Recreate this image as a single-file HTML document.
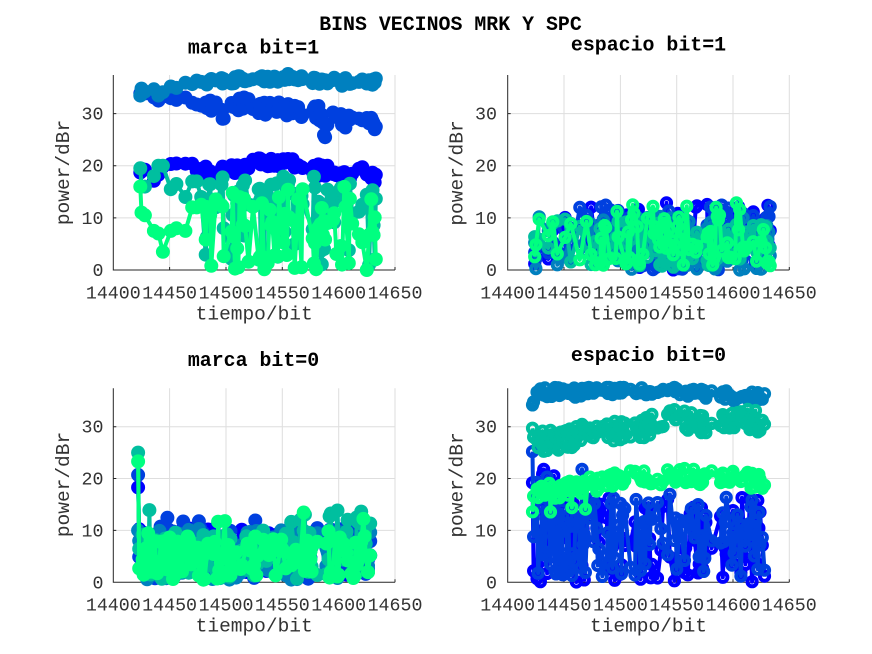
<!DOCTYPE html>
<html><head><meta charset="utf-8">
<style>
html,body{margin:0;padding:0;background:#fff;}
svg{display:block;}
</style></head><body>
<svg id="fig" width="872" height="654" viewBox="0 0 872 654" xmlns="http://www.w3.org/2000/svg">
<rect width="872" height="654" fill="#fff"/>
<!-- grids -->
<g stroke="#dedede" stroke-width="1" fill="none">
  <path d="M169.6 75V270M226 75V270M282.3 75V270M338.7 75V270M395 75V270M113.3 217.9H395M113.3 165.7H395M113.3 113.6H395"/>
  <path d="M564 75V270M620.4 75V270M676.7 75V270M733 75V270M789.3 75V270M507.7 217.9H789.3M507.7 165.7H789.3M507.7 113.6H789.3"/>
  <path d="M169.6 388.3V582.3M226 388.3V582.3M282.3 388.3V582.3M338.7 388.3V582.3M395 388.3V582.3M113.3 530.4H395M113.3 478.5H395M113.3 426.7H395"/>
  <path d="M564 388.3V582.3M620.4 388.3V582.3M676.7 388.3V582.3M733 388.3V582.3M789.3 388.3V582.3M507.7 530.4H789.3M507.7 478.5H789.3M507.7 426.7H789.3"/>
</g>
<!-- axes lines and ticks -->
<g stroke="#262626" stroke-width="1" fill="none">
  <path d="M113.3 75V270H395"/>
  <path d="M113.3 217.9h3M113.3 165.7h3M113.3 113.6h3M169.6 270v-3M226 270v-3M282.3 270v-3M338.7 270v-3M395 270v-3"/>
  <path d="M507.7 75V270H789.3"/>
  <path d="M507.7 217.9h3M507.7 165.7h3M507.7 113.6h3M564 270v-3M620.4 270v-3M676.7 270v-3M733 270v-3M789.3 270v-3"/>
  <path d="M113.3 388.3V582.3H395"/>
  <path d="M113.3 530.4h3M113.3 478.5h3M113.3 426.7h3M169.6 582.3v-3M226 582.3v-3M282.3 582.3v-3M338.7 582.3v-3M395 582.3v-3"/>
  <path d="M507.7 388.3V582.3H789.3"/>
  <path d="M507.7 530.4h3M507.7 478.5h3M507.7 426.7h3M564 582.3v-3M620.4 582.3v-3M676.7 582.3v-3M733 582.3v-3M789.3 582.3v-3"/>
</g>
<g id="data"></g>
<!-- tick labels -->
<g font-family="'Liberation Mono', 'DejaVu Sans Mono', monospace" font-size="18.3" fill="#333">
  <g text-anchor="middle">
    <text x="113.3" y="298.5">14400</text><text x="169.6" y="298.5">14450</text><text x="226" y="298.5">14500</text><text x="282.3" y="298.5">14550</text><text x="338.7" y="298.5">14600</text><text x="395" y="298.5">14650</text>
    <text x="507.7" y="298.5">14400</text><text x="564" y="298.5">14450</text><text x="620.4" y="298.5">14500</text><text x="676.7" y="298.5">14550</text><text x="733" y="298.5">14600</text><text x="789.3" y="298.5">14650</text>
    <text x="113.3" y="610.6">14400</text><text x="169.6" y="610.6">14450</text><text x="226" y="610.6">14500</text><text x="282.3" y="610.6">14550</text><text x="338.7" y="610.6">14600</text><text x="395" y="610.6">14650</text>
    <text x="507.7" y="610.6">14400</text><text x="564" y="610.6">14450</text><text x="620.4" y="610.6">14500</text><text x="676.7" y="610.6">14550</text><text x="733" y="610.6">14600</text><text x="789.3" y="610.6">14650</text>
  </g>
  <g text-anchor="end">
    <text x="103.5" y="276">0</text><text x="103.5" y="223.9">10</text><text x="103.5" y="171.7">20</text><text x="103.5" y="119.6">30</text>
    <text x="497" y="276">0</text><text x="497" y="223.9">10</text><text x="497" y="171.7">20</text><text x="497" y="119.6">30</text>
    <text x="103.5" y="588.3">0</text><text x="103.5" y="536.4">10</text><text x="103.5" y="484.5">20</text><text x="103.5" y="432.7">30</text>
    <text x="497" y="588.3">0</text><text x="497" y="536.4">10</text><text x="497" y="484.5">20</text><text x="497" y="432.7">30</text>
  </g>
</g>
<!-- axis labels -->
<g font-family="'Liberation Mono', 'DejaVu Sans Mono', monospace" font-size="19.5" fill="#333" text-anchor="middle">
  <text x="254.2" y="319.3">tiempo/bit</text>
  <text x="648.5" y="319.3">tiempo/bit</text>
  <text x="254.2" y="631.5">tiempo/bit</text>
  <text x="648.5" y="631.5">tiempo/bit</text>
  <text transform="translate(69,172.5) rotate(-90)">power/dBr</text>
  <text transform="translate(462.5,173) rotate(-90)">power/dBr</text>
  <text transform="translate(69,484.5) rotate(-90)">power/dBr</text>
  <text transform="translate(462.5,485) rotate(-90)">power/dBr</text>
</g>
<!-- titles -->
<g font-family="'Liberation Mono', 'DejaVu Sans Mono', monospace" font-weight="bold" font-size="19.9" fill="#000" text-anchor="middle">
  <text x="450.5" y="30">BINS VECINOS MRK Y SPC</text>
  <text x="253.5" y="53.5">marca bit=1</text>
  <text x="648.5" y="50.5">espacio bit=1</text>
  <text x="253.5" y="366">marca bit=0</text>
  <text x="648.5" y="361">espacio bit=0</text>
</g>
</svg>
<script>
(function(){
function mulberry32(a){return function(){a|=0;a=a+0x6D2B79F5|0;var t=Math.imul(a^a>>>15,1|a);t=t+Math.imul(t^t>>>7,61|t)^t;return((t^t>>>14)>>>0)/4294967296;};}
var R=mulberry32(12345);
var C=['#0000ff','#0040df','#0080bf','#00bf9f','#00ff80'];
var AX={TL:{x0:113.3,x1:395,yb:270,yt:75},TR:{x0:507.7,x1:789.3,yb:270,yt:75},BL:{x0:113.3,x1:395,yb:582.3,yt:388.3},BR:{x0:507.7,x1:789.3,yb:582.3,yt:388.3}};
var YM=37.4;
function interp(kp,t){if(t<=kp[0][0])return kp[0][1];for(var i=1;i<kp.length;i++){if(t<=kp[i][0]){var a=kp[i-1],b=kp[i];return a[1]+(b[1]-a[1])*(t-a[0])/(b[0]-a[0]);}}return kp[kp.length-1][1];}
function clamp(v){return Math.max(0,Math.min(37.6,v));}
function n(a){return (R()-0.5)*2*a;}
var early=[14424,14425,14428,14436,14440,14444,14451,14456,14464,14470,14474,14478];
var T1=early.slice();
for(var t=14481;t<=14632;t++){if(R()<0.55)T1.push(t);}
T1.push(14633);
var s1={};T1.forEach(function(t){s1[t]=1;});
var T0=[];for(var t2=14422;t2<=14633;t2++){if(!s1[t2])T0.push(t2);}

// ---- TL ----
var kTL1=[[14424,19.5],[14430,18.5],[14440,18],[14452,20.5],[14470,20],[14485,18.5],[14500,19],[14520,20],[14545,21],[14570,20.5],[14585,19],[14600,19],[14610,17.5],[14622,19.5],[14633,17.5]];
var kTL2=[[14424,34],[14432,33],[14450,32],[14470,32.5],[14485,32],[14497,30],[14515,32],[14530,31],[14550,31],[14570,29.5],[14582,30.5],[14588,26.5],[14595,29.5],[14605,28.5],[14620,30],[14633,28]];
var kTL3=[[14424,34.2],[14440,34],[14450,35],[14470,35.5],[14490,36],[14520,36.8],[14560,36.8],[14600,36],[14633,36.2]];
var e4={14424:19.5,14425:16,14428:16,14436:18,14440:20,14444:20,14451:15.5,14456:16.5,14464:14,14470:17,14474:17,14478:14};
var e5={14424:16,14425:11,14428:10.5,14436:7.5,14440:7,14444:3.5,14451:7.5,14456:8,14464:7.5,14470:12,14474:12,14478:12.5};
var TL=[
 T1.map(function(t){return interp(kTL1,t)+n(1.1);}),
 T1.map(function(t){return interp(kTL2,t)+n(1.3);}),
 T1.map(function(t){return interp(kTL3,t)+n(0.8);}),
 T1.map(function(t){if(e4[t]!==undefined)return e4[t];var r=R();return r<0.15?R()*3:(r<0.38?3+R()*7:10+R()*8);}),
 T1.map(function(t){if(e5[t]!==undefined)return e5[t];var r=R();return r<0.3?R()*3:(r<0.65?3+R()*6:9+R()*7);})
];
// ---- TR ----
var TR=[
 T1.map(function(){var r=R();return r<0.25?R()*3:(r<0.7?3+R()*6:9+R()*4);}),
 T1.map(function(){var r=R();return r<0.25?R()*3:(r<0.7?3+R()*6:9+R()*3.5);}),
 T1.map(function(){return R()*11;}),
 T1.map(function(){return 0.5+R()*9.5;}),
 T1.map(function(){var r=R();return r<0.9?0.8+R()*9.5:10+R()*3.5;})
];
// ---- BL ----
var first=[18.3,20.7,10,25,23.3];
var BL=[
 T0.map(function(t){return t===14422?first[0]:1+R()*9.5;}),
 T0.map(function(t){if(t===14422)return first[1];return R()<0.05?10+R()*2.5:0.5+R()*10;}),
 T0.map(function(t){return t===14422?first[2]:0.5+R()*10;}),
 T0.map(function(t){if(t===14422)return first[3];var r=R();return r<0.07?11+R()*3:0.5+R()*9.5;}),
 T0.map(function(t){if(t===14422)return first[4];var r=R();return r<0.07?9+R()*5:0.5+R()*8.5;})
];
// ---- BR ----
var kBR3=[[14422,34.2],[14426,36.5],[14500,36.9],[14560,36.7],[14585,35.9],[14620,35.9],[14633,36.4]];
var kBR4=[[14422,29.7],[14424,27],[14450,27.5],[14480,29],[14500,29.5],[14520,30],[14540,31.5],[14560,31],[14580,30.5],[14600,31.5],[14633,31]];
var kBR5=[[14422,17],[14450,18],[14480,19],[14500,20],[14550,20.5],[14633,19.5]];
var BR=[
 T0.map(function(t,i){if(i===0)return 19.2;if(i===1)return 2.2;var r=R();if(t<14470&&r<0.08)return 17+R()*5;return r<0.35?R()*4:4+R()*12.5;}),
 T0.map(function(t,i){if(i===0)return 25.2;if(i===1)return 8.8;var r=R();if(t<14470&&r<0.08)return 17+R()*5;return 1+R()*16;}),
 T0.map(function(t,i){if(i===0)return 34.2;return interp(kBR3,t)+n(1);}),
 T0.map(function(t,i){if(i===0)return 29.7;if(i===1)return 28;return interp(kBR4,t)+n(2.2);}),
 T0.map(function(t,i){if(i===0)return 13.6;if(i===1)return 16.6;if(t<14470&&R()<0.12)return 12.5+R()*2.5;return interp(kBR5,t)+n(1.6);})
];
var NS='http://www.w3.org/2000/svg';
var dg=document.getElementById('data');
function draw(ax,T,series,star){
 var a=AX[ax],sx=(a.x1-a.x0)/250,sy=(a.yb-a.yt)/YM;
 series.forEach(function(vals,i){
  var pts=T.map(function(t,j){return [a.x0+(t-14400)*sx,a.yb-clamp(vals[j])*sy];});
  var d='M'+pts.map(function(p){return p[0].toFixed(1)+' '+p[1].toFixed(1);}).join('L');
  var p=document.createElementNS(NS,'path');
  p.setAttribute('d',d);p.setAttribute('stroke',C[i]);p.setAttribute('stroke-width',4);
  p.setAttribute('fill','none');p.setAttribute('stroke-linejoin','round');
  dg.appendChild(p);
  var g=document.createElementNS(NS,'g');
  if(star){g.setAttribute('fill',C[i]);}else{g.setAttribute('fill','none');g.setAttribute('stroke',C[i]);g.setAttribute('stroke-width','4');}
  pts.forEach(function(q){var c=document.createElementNS(NS,'circle');c.setAttribute('cx',q[0].toFixed(1));c.setAttribute('cy',q[1].toFixed(1));c.setAttribute('r',star?7:4.6);g.appendChild(c);});
  dg.appendChild(g);
 });
}
draw('TL',T1,TL,true);
draw('TR',T1,TR,false);
draw('BL',T0,BL,true);
draw('BR',T0,BR,false);
})();
</script>
</body></html>
